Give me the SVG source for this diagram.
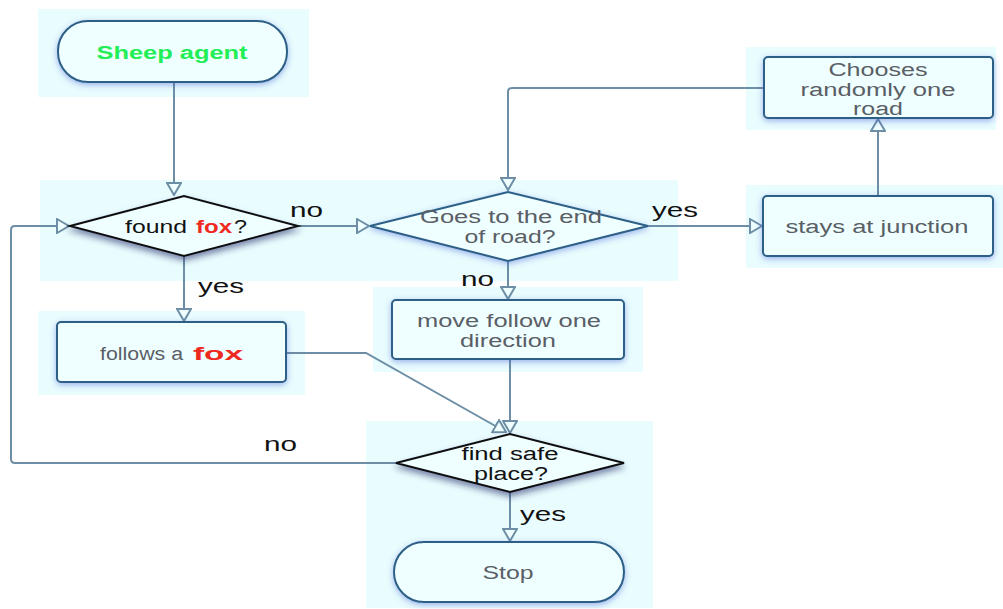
<svg xmlns="http://www.w3.org/2000/svg" width="1003" height="609" viewBox="0 0 1003 609">
<defs>
<style>
.panel{fill:#e9fdfe}
.box{fill:#effefe;stroke:#2d5f86;stroke-width:2;filter:url(#glow)}
.dia{fill:#effefe;stroke:#111;stroke-width:2;filter:url(#dshadow)}
.dia2{fill:#effefe;stroke:#2d5f86;stroke-width:2;filter:url(#glow)}
.t{font-family:"Liberation Sans",Arial,sans-serif;font-size:18px;fill:#5a5e66;text-anchor:middle}
.tb{font-family:"Liberation Sans",Arial,sans-serif;font-size:18px;fill:#111;text-anchor:middle}
.ts{font-family:"Liberation Sans",Arial,sans-serif;font-size:18px}
.lbl{font-family:"Liberation Sans",Arial,sans-serif;font-size:21px;fill:#111}
.red{fill:#ee2a1f;font-weight:bold}
.c{fill:none;stroke:#6d8ea5;stroke-width:2}
</style>
<filter id="glow" x="-20%" y="-30%" width="140%" height="160%">
<feDropShadow dx="0" dy="2" stdDeviation="3" flood-color="#3b57d6" flood-opacity="0.45"/>
</filter>
<filter id="dshadow" x="-20%" y="-30%" width="140%" height="170%">
<feDropShadow dx="0" dy="4" stdDeviation="3" flood-color="#1a2a66" flood-opacity="0.55"/>
</filter>
<marker id="arr" viewBox="0 0 14 16" refX="13" refY="8" markerWidth="14" markerHeight="16" markerUnits="userSpaceOnUse" orient="auto">
<path d="M1,1 L13,8 L1,15 Z" fill="#effefe" stroke="#6d8ea5" stroke-width="2" stroke-linejoin="miter"/>
</marker>
</defs>
<rect width="1003" height="609" fill="#ffffff"/>
<g id="panels">
<rect class="panel" x="38" y="9" width="271" height="88"/>
<rect class="panel" x="40" y="180" width="638" height="101"/>
<rect class="panel" x="38" y="311" width="267" height="84"/>
<rect class="panel" x="373" y="287" width="270" height="85"/>
<rect class="panel" x="366" y="421" width="287" height="187"/>
<rect class="panel" x="746" y="47" width="250" height="83"/>
<rect class="panel" x="746" y="185" width="257" height="83"/>
</g>
<g id="connectors">
<path class="c" d="M174,82 V195" marker-end="url(#arr)"/>
<path class="c" d="M298,226 H369" marker-end="url(#arr)"/>
<path class="c" d="M648,226 H762" marker-end="url(#arr)"/>
<path class="c" d="M878,196 V119" marker-end="url(#arr)"/>
<path class="c" d="M764,88 H512 Q508,88 508,92 V190" marker-end="url(#arr)"/>
<path class="c" d="M508,261 V299" marker-end="url(#arr)"/>
<path class="c" d="M184,256 V321" marker-end="url(#arr)"/>
<path class="c" d="M286,353 H366 L506,432" marker-end="url(#arr)"/>
<path class="c" d="M510,359 V433" marker-end="url(#arr)"/>
<path class="c" d="M396,463 H15 Q11,463 11,459 V230 Q11,226 15,226 H69" marker-end="url(#arr)"/>
<path class="c" d="M510,492 V541" marker-end="url(#arr)"/>
<text class="lbl" x="290" y="217" textLength="33" lengthAdjust="spacingAndGlyphs">no</text>
<text class="lbl" x="652" y="217" textLength="46" lengthAdjust="spacingAndGlyphs">yes</text>
<text class="lbl" x="461" y="286" textLength="33" lengthAdjust="spacingAndGlyphs">no</text>
<text class="lbl" x="198" y="293" textLength="46" lengthAdjust="spacingAndGlyphs">yes</text>
<text class="lbl" x="264" y="451" textLength="33" lengthAdjust="spacingAndGlyphs">no</text>
<text class="lbl" x="520" y="521" textLength="46" lengthAdjust="spacingAndGlyphs">yes</text>
</g>
<g id="n-sheep">
<rect class="box" x="58" y="21" width="229" height="61" rx="30"/>
<text class="t" x="172" y="59" textLength="151" lengthAdjust="spacingAndGlyphs" style="fill:#22ee55;font-weight:bold">Sheep agent</text>
</g>
<g id="n-foundfox">
<path class="dia" d="M70,226 L184,196 L298,226 L184,256 Z"/>
<text class="ts" x="125" y="233" fill="#111" textLength="62" lengthAdjust="spacingAndGlyphs">found</text>
<text class="ts red" x="196" y="233" textLength="36" lengthAdjust="spacingAndGlyphs">fox</text>
<text class="ts" x="234" y="233" fill="#111" textLength="13" lengthAdjust="spacingAndGlyphs">?</text>
</g>
<g id="n-goes">
<path class="dia2" d="M370,226 L508,192 L648,226 L508,261 Z"/>
<text class="t" x="511" y="223" textLength="182" lengthAdjust="spacingAndGlyphs">Goes to the end</text>
<text class="t" x="510" y="243" textLength="91" lengthAdjust="spacingAndGlyphs">of road?</text>
</g>
<g id="n-stays">
<rect class="box" x="763" y="196" width="230" height="60" rx="4"/>
<text class="t" x="877" y="233" textLength="183" lengthAdjust="spacingAndGlyphs">stays at junction</text>
</g>
<g id="n-chooses">
<rect class="box" x="764" y="57" width="229" height="61" rx="4"/>
<text class="t" x="878" y="76" textLength="99" lengthAdjust="spacingAndGlyphs">Chooses</text>
<text class="t" x="878" y="96" textLength="155" lengthAdjust="spacingAndGlyphs">randomly one</text>
<text class="t" x="878" y="115" textLength="50" lengthAdjust="spacingAndGlyphs">road</text>
</g>
<g id="n-move">
<rect class="box" x="392" y="300" width="232" height="59" rx="4"/>
<text class="t" x="509" y="327" textLength="184" lengthAdjust="spacingAndGlyphs">move follow one</text>
<text class="t" x="508" y="347" textLength="96" lengthAdjust="spacingAndGlyphs">direction</text>
</g>
<g id="n-follows">
<rect class="box" x="57" y="322" width="229" height="60" rx="4"/>
<text class="ts" x="100" y="360" fill="#5a5e66" textLength="83" lengthAdjust="spacingAndGlyphs">follows a</text>
<text class="ts red" x="193" y="360" textLength="50" lengthAdjust="spacingAndGlyphs">fox</text>
</g>
<g id="n-findsafe">
<path class="dia" d="M396,463 L510,434 L624,463 L510,492 Z"/>
<text class="tb" x="510" y="460" textLength="97" lengthAdjust="spacingAndGlyphs">find safe</text>
<text class="tb" x="511" y="480" textLength="74" lengthAdjust="spacingAndGlyphs">place?</text>
</g>
<g id="n-stop">
<rect class="box" x="394" y="542" width="230" height="60" rx="30"/>
<text class="t" x="508" y="579" textLength="51" lengthAdjust="spacingAndGlyphs">Stop</text>
</g>
</svg>
